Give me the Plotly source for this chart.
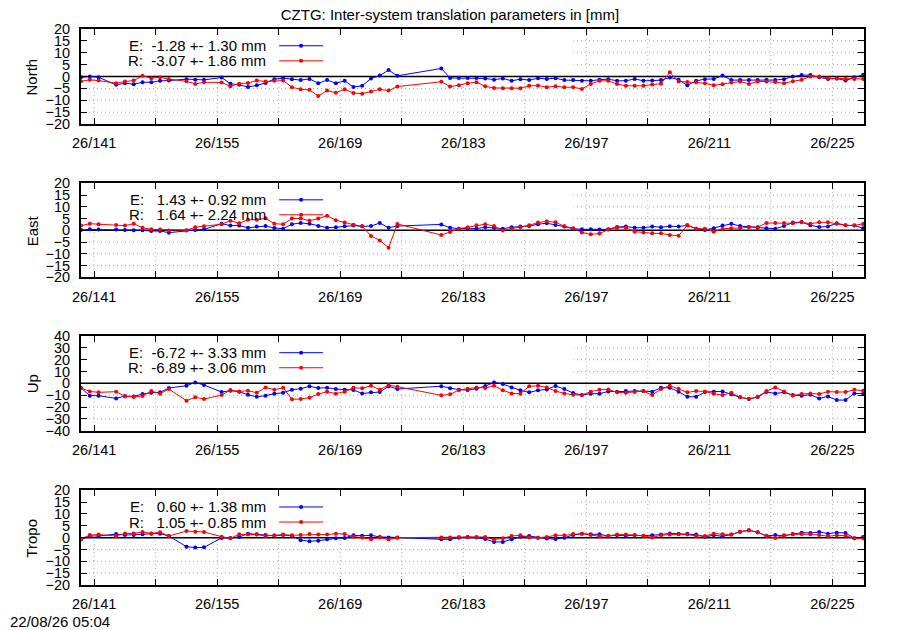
#%%
# imports

import plotly.graph_objects as go


#%%
# data -- daily solutions, day of year 2026 (epochs at 12:00)

doy = [139, 140, 141,
       143, 144, 145, 146, 147, 148, 149,
       151, 152, 153,
       155, 156, 157, 158, 159, 160, 161, 162, 163, 164, 165, 166, 167, 168, 169, 170, 171, 172, 173, 174, 175,
       180, 181, 182, 183, 184, 185, 186, 187, 188, 189, 190, 191, 192, 193, 194, 195, 196, 197, 198, 199, 200,
       201, 202, 203, 204, 205, 206, 207, 208, 209, 210, 211, 212, 213, 214, 215, 216, 217, 218, 219, 220,
       221, 222, 223, 224, 225, 226, 227, 228]

north_e = [-0.3, 0.0, -0.3,
           -3.5, -2.8, -3.2, -2.4, -2.4, -1.8, -1.7,
           -1.1, -1.4, -1.4,
           -0.4, -3.0, -3.5, -4.4, -3.7, -2.7, -1.1, -0.7, -1.1, -1.5, -1.0, -2.8, -1.5, -2.8, -1.8, -4.4, -3.9, -0.8, 0.4, 2.7, 0.3,
           3.4, -0.6, -0.6, -0.6, -0.6, -0.8, -1.3, -0.8, -1.8, -1.1, -1.5, -0.7, -1.0, -0.7, -1.5, -1.5, -1.8, -1.8, -1.3, -1.1,
           -1.8, -1.8, -1.0, -1.8, -1.7, -1.5, -0.4, -1.3, -3.7, -1.8, -1.1, -1.0, 0.4, -1.5, -1.5, -1.5, -1.5, -1.4, -1.5, -1.1,
           0.0, 0.6, 0.6, -0.3, -1.0, -0.8, -1.7, -0.3, 0.7]
north_r = [-2.0, -1.4, -1.7,
           -2.8, -2.1, -1.7, 0.3, -0.7, -0.3, -1.1,
           -2.0, -3.1, -2.4,
           -2.5, -4.1, -3.0, -2.7, -1.7, -2.1, -1.8, -1.7, -4.5, -5.4, -5.6, -8.2, -5.9, -6.8, -5.4, -6.9, -7.2, -6.3, -5.4, -5.9, -4.2,
           -2.2, -4.2, -3.7, -2.8, -2.4, -4.1, -4.8, -4.9, -4.9, -4.9, -3.9, -3.8, -4.5, -4.1, -4.5, -4.5, -5.2, -3.1, -1.8, -1.8,
           -3.1, -3.9, -3.9, -3.9, -3.4, -3.0, 1.8, -2.1, -2.3, -2.4, -2.8, -3.7, -3.2, -2.5, -2.1, -3.1, -2.1, -2.1, -2.3, -2.8,
           -2.0, -1.4, 0.0, 0.0, -0.7, -0.8, -1.0, -1.0, -1.0]

east_e = [0.1, 0.4, 0.3,
          0.3, 0.1, 0.0, 0.0, -0.3, -0.3, -1.0,
          -0.1, 0.1, 0.4,
          2.8, 2.0, 2.0, 1.1, 1.6, 1.8, 1.0, 0.7, 2.6, 3.1, 2.8, 1.8, 1.1, 1.3, 1.7, 2.0, 1.7, 1.8, 3.1, 1.1, 1.8,
          2.5, 1.1, 0.7, 0.7, 0.7, 1.3, 1.1, 0.7, 1.3, 1.6, 1.8, 2.6, 3.0, 2.3, 1.6, 0.7, 0.4, 0.4, 0.3, 0.4,
          1.4, 1.6, 1.1, 1.1, 1.6, 1.3, 1.7, 1.6, 2.1, 0.7, 0.1, 0.9, 2.0, 2.8, 1.8, 1.4, 1.1, 0.9, 0.7, 1.8,
          3.3, 3.5, 2.1, 1.4, 1.6, 3.0, 2.1, 2.0, 0.9]
east_r = [2.0, 2.8, 2.6,
          2.3, 2.0, 2.8, 1.1, 0.4, 0.3, -0.1,
          0.0, 1.3, 1.7,
          2.6, 4.1, 3.0, 4.5, 4.5, 5.1, 2.8, 2.6, 5.0, 5.0, 4.1, 5.0, 6.2, 4.3, 3.3, 2.4, 1.7, -2.4, -4.3, -7.4, 2.7,
          -2.0, -0.7, 0.7, 1.3, 2.1, 2.6, 1.8, -0.1, 0.7, 1.3, 2.1, 3.3, 3.8, 3.4, 1.7, 0.9, -0.9, -1.7, -1.4, 0.3,
          1.1, 1.1, -0.6, -0.9, -1.3, -1.3, -2.0, -2.3, 2.1, 0.7, 0.7, -0.6, 0.6, 0.9, 0.9, 1.4, 1.4, 3.1, 3.1, 3.1,
          3.0, 3.4, 2.8, 3.4, 3.4, 2.8, 2.1, 2.1, 2.7]

up_e = [-3.9, -10.4, -10.4,
        -12.7, -10.7, -11.0, -9.0, -7.9, -7.6, -3.9,
        -2.0, 0.8, -1.4,
        -7.3, -6.2, -7.0, -9.6, -11.3, -10.4, -8.7, -7.9, -5.4, -4.5, -2.5, -3.9, -3.7, -4.8, -5.4, -5.6, -8.5, -7.6, -7.3, -2.5, -4.8,
        -2.4, -4.2, -5.4, -5.6, -4.5, -2.3, 0.8, -0.6, -3.4, -5.9, -7.6, -5.9, -5.1, -2.3, -4.8, -8.2, -9.9, -8.7, -8.7, -6.8,
        -7.0, -6.5, -6.5, -6.5, -7.0, -3.7, -3.7, -7.0, -11.3, -11.3, -7.3, -7.0, -6.8, -9.3, -11.8, -13.2, -11.5, -7.3, -8.5, -7.6,
        -9.9, -10.4, -9.6, -12.7, -11.0, -14.1, -14.1, -8.5, -8.7]
up_r = [-3.9, -6.8, -7.6,
        -7.0, -11.0, -11.5, -10.7, -6.5, -8.7, -4.8,
        -14.6, -11.8, -13.2,
        -9.9, -5.6, -6.8, -6.2, -7.9, -3.4, -5.4, -3.7, -13.5, -13.2, -12.1, -9.0, -7.0, -8.7, -7.0, -3.7, -4.2, -2.0, -5.4, -1.4, -2.8,
        -10.1, -9.3, -5.6, -4.5, -3.4, -3.9, -2.0, -5.9, -8.5, -8.7, -2.5, -2.0, -3.4, -6.5, -8.5, -9.6, -9.9, -7.0, -5.4, -5.1,
        -7.6, -7.9, -7.3, -6.5, -9.9, -4.8, -2.0, -4.5, -7.6, -6.5, -6.8, -8.7, -9.9, -7.9, -11.8, -13.0, -11.3, -6.5, -3.4, -6.8,
        -10.4, -9.0, -8.5, -9.0, -7.0, -7.3, -7.3, -5.4, -6.2]

tropo_e = [-0.8, 0.7, 0.7,
           1.5, 1.1, 1.1, 1.4, 1.7, 1.7, 0.7,
           -3.8, -4.2, -4.1,
           -0.1, -0.1, 0.3, 1.7, 1.4, 1.1, 0.8, 1.1, 0.8, -1.1, -1.5, -1.3, -0.7, -0.3, -0.1, 1.0, 0.8, 1.0, 0.3, 0.1, 0.1,
           -0.7, -0.7, 0.0, 0.3, 0.1, -0.6, -1.8, -1.8, -0.7, 0.4, 0.7, 0.0, -0.4, -0.6, 0.0, 1.1, 1.7, 1.4, 1.4, 0.7,
           1.0, 0.8, 1.0, 0.8, 1.0, 1.3, 1.8, 1.7, 1.7, 1.3, 0.4, 1.0, 0.6, 1.3, 2.5, 3.1, 2.3, 0.7, 1.1, 0.8,
           1.5, 2.1, 2.0, 2.4, 1.7, 2.1, 2.0, -0.3, 0.3]
tropo_r = [-0.6, 1.1, 1.3,
           0.7, 1.8, 1.8, 2.4, 1.8, 2.3, 0.7,
           2.8, 2.5, 2.4,
           0.4, -0.3, 1.4, 1.3, 1.3, 0.7, 1.0, 1.3, 1.0, 1.1, 1.5, 1.3, 1.3, 1.7, 1.5, 0.4, 0.1, -0.7, 0.1, -0.8, 0.0,
           0.1, 0.1, 0.3, 0.3, 0.3, 0.3, -0.8, -0.3, 0.7, 1.0, 0.1, 0.0, 0.3, 1.0, 1.0, 1.5, 1.7, 1.1, 0.6, 0.8,
           1.3, 1.3, 1.1, 0.8, 0.1, 1.0, 1.3, 1.4, 1.3, 0.7, 0.7, 1.7, 1.4, 1.3, 2.5, 3.1, 2.3, 0.7, -0.1, 1.0,
           1.4, 1.5, 1.4, 1.1, 0.6, 1.0, 0.8, -0.3, -0.3]

components = ['North', 'East', 'Up', 'Tropo']
series_e = [north_e, east_e, up_e, tropo_e]
series_r = [north_r, east_r, up_r, tropo_r]

# mean +- std printed in the keys
e_mean = [-1.28, 1.43, -6.72, 0.60]
e_std = [1.30, 0.92, 3.33, 1.38]
r_mean = [-3.07, 1.64, -6.89, 1.05]
r_std = [1.86, 2.24, 3.06, 0.85]

y_limit = [20, 20, 40, 20]
y_step = [5, 5, 10, 5]

tick_days = [141, 148, 155, 162, 169, 176, 183, 190, 197, 204, 211, 218, 225]
tick_labels = ['26/141', '', '26/155', '', '26/169', '', '26/183', '', '26/197', '', '26/211', '', '26/225']

for s in series_e + series_r:
    assert len(s) == len(doy)

epoch = [d + 0.5 for d in doy]


#%%
# figure

FONT = 'Liberation Sans, Arial, sans-serif'
BLUE = '#0000ff'
RED = '#ff0000'
GRID = dict(color='#a8a8a8', width=1, dash='1px,3px')
TICK_FONT = dict(family=FONT, size=14.5, color='black')
TEXT_FONT = dict(family=FONT, size=15, color='black')

# the page puts the figure 8px in from the corner, so the plot area
# 81..864 x 29..585 px of the screenshot is 73..856 x 21..577 in the figure
domains = [[0.829, 1.0], [0.5534, 0.7225], [0.2775, 0.4478], [0.0, 0.1703]]
PLOT_H = 556
PLOT_W = 783

fig = go.Figure()
shapes = []
annotations = []


def key_text(name, mean, std):
    txt = f'{name}:  {mean:5.2f} +- {std:4.2f} mm'
    return txt.replace(' ', '\u00a0')


for i, comp in enumerate(components):
    xa = 'x' if i == 0 else f'x{i + 1}'
    ya = 'y' if i == 0 else f'y{i + 1}'
    h_px = (domains[i][1] - domains[i][0]) * PLOT_H

    for vals, col in [(series_e[i], BLUE), (series_r[i], RED)]:
        fig.add_trace(go.Scatter(
            x=epoch, y=vals, xaxis=xa, yaxis=ya,
            mode='lines+markers',
            line=dict(color=col, width=1),
            marker=dict(color=col, size=4),
            showlegend=False,
        ))

    axis_x = dict(
        domain=[0, 1], anchor=ya, range=[139.5, 228.6],
        tickmode='array', tickvals=tick_days, ticktext=tick_labels,
        ticks='inside', ticklen=6, tickcolor='black',
        showline=True, linecolor='black', linewidth=2, mirror='ticks',
        showgrid=False, zeroline=False, ticklabelstandoff=5,
        tickfont=TICK_FONT,
    )
    axis_y = dict(
        domain=domains[i], anchor=xa, range=[-y_limit[i], y_limit[i]],
        tick0=0, dtick=y_step[i],
        ticks='inside', ticklen=6, tickcolor='black',
        showline=True, linecolor='black', linewidth=2, mirror='ticks',
        showgrid=False, zeroline=False, ticklabelstandoff=6,
        tickfont=TICK_FONT,
    )
    fig.update_layout({('xaxis' if i == 0 else f'xaxis{i + 1}'): axis_x,
                       ('yaxis' if i == 0 else f'yaxis{i + 1}'): axis_y})

    # dotted grid, drawn as shapes so the key box can cover it
    for d in tick_days:
        shapes.append(dict(type='line', xref=xa, yref=f'{ya} domain',
                           x0=d, x1=d, y0=0, y1=1, line=GRID, layer='below'))
    for v in range(-y_limit[i] + y_step[i], y_limit[i], y_step[i]):
        if v != 0:
            shapes.append(dict(type='line', xref=f'{xa} domain', yref=ya,
                               x0=0, x1=1, y0=v, y1=v, line=GRID, layer='below'))

    # key box hides the grid behind it (like gnuplot)
    shapes.append(dict(type='rect', xref=f'{xa} domain', yref=f'{ya} domain',
                       x0=0, x1=0.629, y0=0.5, y1=1, fillcolor='white',
                       line=dict(width=0), layer='below'))
    # zero line
    shapes.append(dict(type='line', xref=f'{xa} domain', yref=ya,
                       x0=0, x1=1, y0=0, y1=0,
                       line=dict(color='black', width=1.5), layer='below'))

    # key entries
    for row_y, name, m, s, col in [(0.824, 'E', e_mean[i], e_std[i], BLUE),
                                   (0.665, 'R', r_mean[i], r_std[i], RED)]:
        annotations.append(dict(text=key_text(name, m, s), xref=f'{xa} domain', yref=f'{ya} domain',
                                x=0.2394, y=row_y, xanchor='right', yanchor='middle', showarrow=False,
                                font=TEXT_FONT))
        shapes.append(dict(type='line', xref=f'{xa} domain', yref=f'{ya} domain',
                           x0=0.2531, x1=0.3092, y0=row_y, y1=row_y,
                           line=dict(color=col, width=1)))
        dx = 2 / PLOT_W
        dy = 2 / h_px
        shapes.append(dict(type='circle', xref=f'{xa} domain', yref=f'{ya} domain',
                           x0=0.2811 - dx, x1=0.2811 + dx, y0=row_y - dy, y1=row_y + dy,
                           fillcolor=col, line=dict(width=0)))

    # panel label
    annotations.append(dict(text=comp, xref='paper', yref='paper',
                            x=-0.0626, y=sum(domains[i]) / 2, textangle=-90,
                            xanchor='center', yanchor='middle', showarrow=False,
                            font=TEXT_FONT))

annotations.append(dict(text='22/08/26 05:04', xref='paper', yref='paper',
                        x=-0.0932, y=-0.066, xanchor='left', yanchor='middle', showarrow=False,
                        font=TEXT_FONT))

fig.update_layout(
    width=900, height=630,
    margin=dict(l=73, r=44, t=21, b=53, autoexpand=False),
    paper_bgcolor='white', plot_bgcolor='white',
    title=dict(text='CZTG: Inter-system translation parameters in [mm]',
               xref='container', x=442 / 900, xanchor='center',
               yref='container', y=1 - 1 / 630, yanchor='top',
               font=TEXT_FONT),
    shapes=shapes,
    annotations=annotations,
    showlegend=False,
)

fig.write_html('out.html')
